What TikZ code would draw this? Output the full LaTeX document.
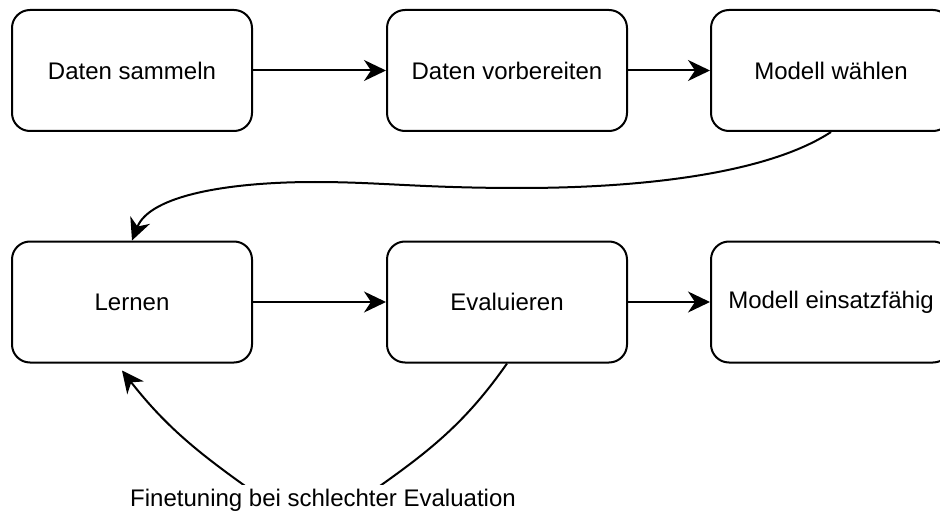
\documentclass[tikz,border=0pt]{standalone}
\usepackage{fontspec}
\setmainfont{Liberation Sans}
\usepackage{tikz}
\usetikzlibrary{arrows.meta, calc}

\begin{document}
\begin{tikzpicture}[x=1pt, y=1pt,
        stepbox/.style={draw, line width=2pt, rounded corners=18pt,
            minimum width=240pt, minimum height=121pt, align=center,
            font=\fontsize{24}{28}\selectfont},
        flow/.style={line width=2pt,
            -{Stealth[length=22pt, width=21pt, inset=7pt]}}]
        % page size
        \useasboundingbox (0,0) rectangle (940,-516);

        % top row
        \node[stepbox] (sammeln)     at (132,-70.5) {Daten sammeln};
        \node[stepbox] (vorbereiten) at (507,-70.5) {Daten vorbereiten};
        \node[stepbox] (waehlen)     at (831,-70.5) {Modell wählen};

        % bottom row
        \node[stepbox] (lernen)  at (132,-302) {Lernen};
        \node[stepbox] (evalu)   at (507,-302) {Evaluieren};
        \node[stepbox] (fertig)  at (831,-302) {Modell einsatzfähig};

        % straight arrows
        \draw[flow] (sammeln) -- (vorbereiten);
        \draw[flow] (vorbereiten) -- (waehlen);
        \draw[flow] (lernen) -- (evalu);
        \draw[flow] (evalu) -- (fertig);

        % back to the second row
        \draw[flow] (waehlen.south) .. controls (770,-172) and (650,-188) .. (520,-188)
            .. controls (420,-188) and (380,-182) .. (315,-182)
            .. controls (230,-182) and (150,-195) .. (lernen.north);

        % finetuning loop, the label hides its lowest part
        \coordinate (lernenin) at ($ (lernen.south)+(-10,-7) $);
        \draw[flow] (evalu.south) to[out=-125, in=35] (360,-500)
            -- (265,-500) to[out=145, in=-52] (lernenin);
        \node[fill=white, font=\fontsize{24}{28}\selectfont] (fine) at (323,-500)
            {Finetuning bei schlechter Evaluation};
    \end{tikzpicture}
\end{document}
